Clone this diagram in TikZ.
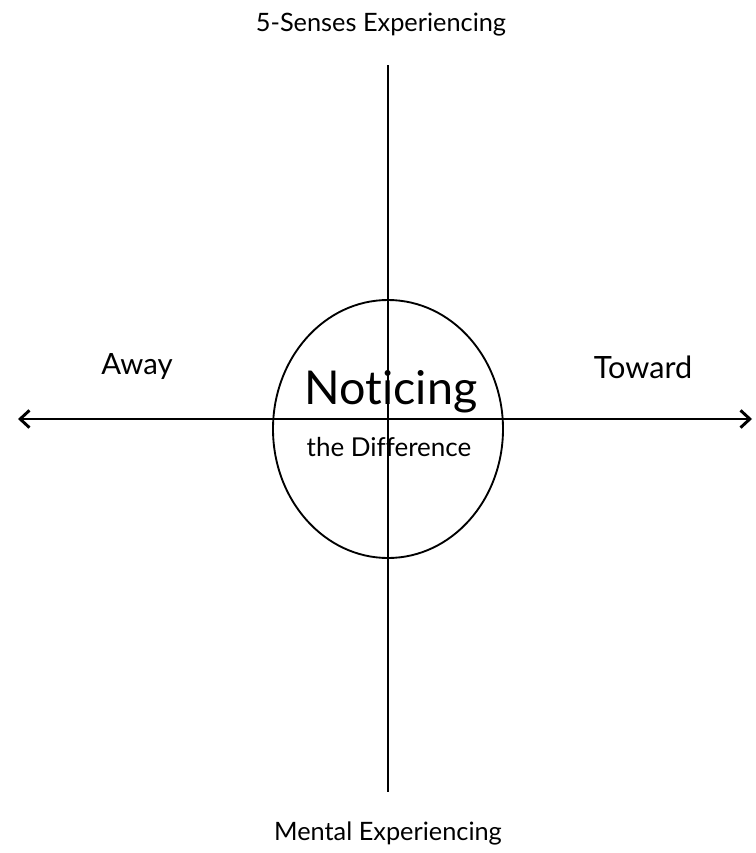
\documentclass[tikz,border=0pt]{standalone}
\usepackage{fontspec}
\setmainfont{Lato}[Ligatures={NoCommon}]
\usetikzlibrary{arrows.meta}

\begin{document}
\begin{tikzpicture}[x=0.75pt,y=-0.75pt]
    \path[use as bounding box] (0,0) rectangle (756,853);

    \coordinate (top)    at (388,65);
    \coordinate (bottom) at (388,792);
    \coordinate (left)   at (18,419);
    \coordinate (right)  at (752,419);

    \draw[line width=2.2pt] (top) -- (bottom);
    \draw[line width=2.2pt, {Straight Barb[length=7pt,width=13pt]}-{Straight Barb[length=7pt,width=13pt]}] (left) -- (right);

    \draw[line width=1.4pt] (388,429) ellipse (115 and 129);

    \node (senses) at (381,25)  {\fontsize{19}{22}\selectfont 5-Senses Experiencing};
    \node (mental) at (388,833) {\fontsize{19}{22}\selectfont Mental Experiencing};
    \node (away)   at (137,367) {\fontsize{22}{26}\selectfont Away};
    \node (toward) at (643,367) {\fontsize{23}{27}\selectfont Toward};
    \node (notice) at (391,392) {\fontsize{35}{42}\selectfont Noticing};
    \node (diff)   at (389,447) {\fontsize{19.5}{23}\selectfont the Difference};
\end{tikzpicture}
\end{document}
